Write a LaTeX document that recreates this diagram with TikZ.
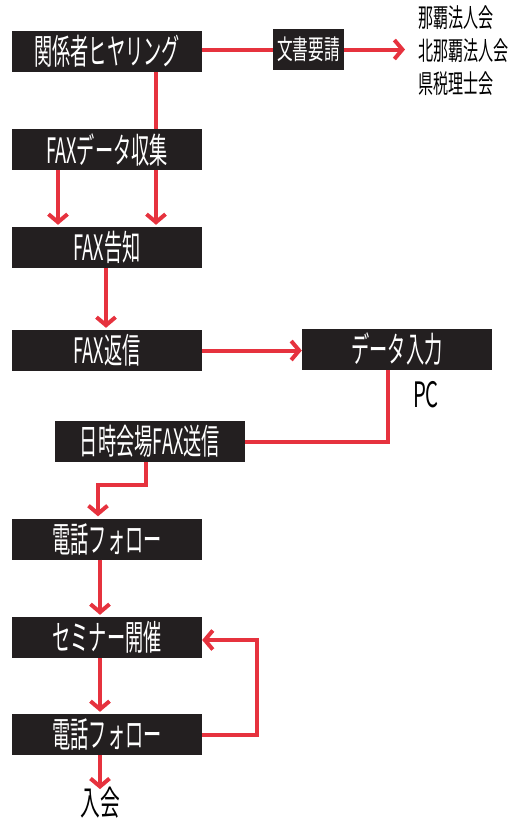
\documentclass[tikz,border=0pt]{standalone}
\usepackage{fontspec}
\newfontfamily\jpbox[FakeStretch=0.52]{Noto Sans CJK JP}
\newfontfamily\jptxt[FakeStretch=0.58]{Noto Sans CJK JP}
\usetikzlibrary{arrows.meta}
\definecolor{boxblack}{HTML}{231F20}
\definecolor{flowred}{HTML}{E6323E}
\begin{document}
\begin{tikzpicture}[x=1pt,y=-1pt,
  stepbox/.style={fill=boxblack, text=white, minimum width=190pt, minimum height=41pt, inner sep=0pt, font=\jpbox\fontsize{35}{35}\selectfont},
  flow/.style={draw=flowred, line width=4pt},
  arr/.style={flow, -{Straight Barb[length=8pt,width=19pt]}},
  plain/.style={font=\jptxt\fontsize{26}{33}\selectfont, text=black, inner sep=0pt}]
\useasboundingbox (0,0) rectangle (512,823);
\node[stepbox] (hear) at (107,51.5) {関係者ヒヤリング};
\node[stepbox, minimum width=71pt, font=\jptxt\fontsize{27}{27}\selectfont] (req) at (308.5,49.5) {文書要請};
\node[plain, align=left, anchor=west] (orgs) at (418,51) {那覇法人会\\北那覇法人会\\県税理士会};
\node[stepbox] (collect) at (107,149.5) {FAXデータ収集};
\node[stepbox] (notice) at (107,247.5) {FAX告知};
\node[stepbox] (reply) at (107,350.5) {FAX返信};
\node[stepbox] (input) at (397,349.5) {データ入力};
\node[plain, font=\jptxt\fontsize{35}{35}\selectfont] (pc) at (426,395) {PC};
\node[stepbox] (send) at (150,441.5) {日時会場FAX送信};
\node[stepbox] (call1) at (107,539) {電話フォロー};
\node[stepbox] (seminar) at (107,637.5) {セミナー開催};
\node[stepbox] (call2) at (107,734.5) {電話フォロー};
\node[plain, font=\jptxt\fontsize{34}{34}\selectfont] (join) at (100,803) {入会};

\draw[flow] (hear.south -| 156,0) -- (collect.north -| 156,0);
\draw[arr, shorten >=2pt] (collect.south -| 156,0) -- (notice.north -| 156,0);
\draw[arr, shorten >=2pt] (collect.south -| 58,0) -- (notice.north -| 58,0);
\draw[flow] (req.west -| hear.east) -- (req.west);
\draw[arr, shorten >=13pt] (req.east) -- (req.east -| orgs.west);
\draw[arr, shorten >=2pt] (notice.south -| 106,0) -- (reply.north -| 106,0);
\draw[arr] (reply.east) -- (reply.east -| input.west);
\draw[flow] (input.south -| 388,0) |- (send.east);
\draw[arr, shorten >=2pt] (send.south -| 146,0) -- ++(0,23) -| (call1.north -| 98,0);
\draw[arr, shorten >=2pt] (call1.south -| 100,0) -- (seminar.north -| 100,0);
\draw[arr, shorten >=2pt] (seminar.south -| 100,0) -- (call2.north -| 100,0);
\draw[arr] (call2.east) -- ++(55,0) |- ([yshift=-2.5pt]seminar.east);
\draw[arr] (call2.south -| 100,0) -- ([yshift=-2pt]join.north);
\end{tikzpicture}
\end{document}
